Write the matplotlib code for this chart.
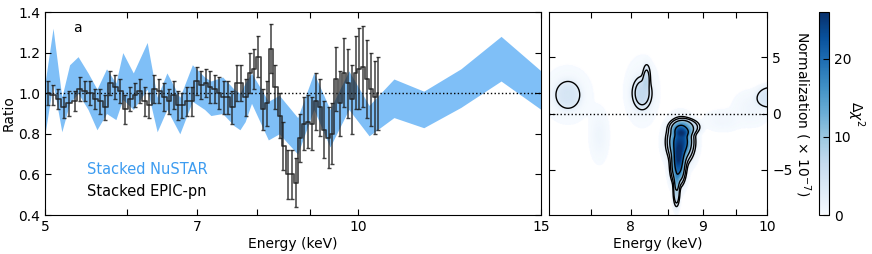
from __future__ import annotations

import matplotlib

matplotlib.use("Agg")
import matplotlib.pyplot as plt
import numpy as np
from matplotlib.colors import LinearSegmentedColormap
from matplotlib.ticker import NullLocator


# Stacked EPIC-pn ratio (bin centres in keV)
epic_energy = [
    5.03, 5.09, 5.15, 5.21, 5.27, 5.34, 5.40, 5.46, 5.52, 5.59,
    5.65, 5.71, 5.78, 5.84, 5.91, 5.97, 6.04, 6.10, 6.17, 6.24,
    6.30, 6.37, 6.44, 6.51, 6.58, 6.65, 6.71, 6.78, 6.85, 6.92,
    7.00, 7.07, 7.14, 7.21, 7.28, 7.35, 7.43, 7.50, 7.57, 7.65,
    7.72, 7.80, 7.87, 7.95, 8.02, 8.10, 8.18, 8.25, 8.33, 8.41,
    8.48, 8.56, 8.64, 8.72, 8.80, 8.88, 8.96, 9.04, 9.12, 9.20,
    9.28, 9.37, 9.45, 9.53, 9.61, 9.70, 9.78, 9.86, 9.95, 10.03,
    10.12, 10.20, 10.29, 10.38, 10.46,
]
epic_ratio = [
    1.00, 0.99, 0.97, 0.93, 0.95, 0.96, 1.02, 1.01, 1.00, 0.97,
    0.96, 0.93, 1.05, 1.03, 1.01, 0.92, 0.97, 0.99, 1.01, 0.96,
    0.94, 1.02, 1.01, 0.98, 0.96, 0.99, 0.94, 0.94, 0.96, 0.96,
    1.06, 1.04, 1.05, 1.03, 1.02, 1.00, 0.98, 0.98, 0.93, 1.05,
    1.05, 0.98, 1.10, 1.12, 1.18, 0.92, 0.95, 1.22, 1.03, 0.89,
    0.74, 0.60, 0.60, 0.56, 0.78, 0.85, 0.86, 0.85, 0.96, 0.93,
    0.82, 0.78, 0.80, 1.07, 0.95, 1.10, 1.05, 0.97, 1.10, 1.12,
    1.13, 1.07, 1.02, 0.98, 1.00,
]
epic_error = [
    0.06, 0.05, 0.05, 0.05, 0.06, 0.05, 0.06, 0.05, 0.06, 0.05,
    0.06, 0.06, 0.06, 0.06, 0.06, 0.07, 0.06, 0.06, 0.06, 0.07,
    0.06, 0.07, 0.06, 0.07, 0.06, 0.07, 0.07, 0.06, 0.07, 0.07,
    0.07, 0.07, 0.07, 0.08, 0.07, 0.08, 0.08, 0.08, 0.08, 0.09,
    0.09, 0.09, 0.10, 0.10, 0.10, 0.10, 0.11, 0.12, 0.11, 0.11,
    0.12, 0.12, 0.12, 0.12, 0.12, 0.13, 0.13, 0.13, 0.14, 0.14,
    0.14, 0.15, 0.15, 0.16, 0.16, 0.17, 0.17, 0.17, 0.18, 0.20,
    0.20, 0.19, 0.18, 0.18, 0.18,
]

# Stacked NuSTAR ratio band (lower / upper edge)
nustar_energy = [
    5.00, 5.09, 5.19, 5.28, 5.38, 5.50, 5.61, 5.73, 5.85, 5.94,
    6.08, 6.27, 6.41, 6.55, 6.74, 6.93, 7.12, 7.22, 7.41, 7.60,
    7.70, 7.79, 7.90, 8.20, 8.40, 8.75, 9.07, 9.40, 9.80, 10.25,
    10.83, 11.57, 12.56, 13.73, 15.00,
]
nustar_low = [
    0.80, 1.05, 0.81, 0.95, 1.00, 0.92, 0.82, 0.90, 0.87, 0.97,
    0.92, 1.02, 0.81, 0.92, 0.80, 0.96, 0.92, 0.89, 0.90, 0.84,
    0.82, 0.86, 0.95, 0.77, 0.80, 0.70, 0.92, 0.735, 0.92, 0.79,
    0.88, 0.83, 0.93, 1.06, 0.92,
]
nustar_high = [
    1.05, 1.32, 0.98, 1.14, 1.18, 1.10, 1.02, 1.12, 1.05, 1.20,
    1.10, 1.25, 0.98, 1.10, 0.98, 1.14, 1.08, 1.06, 1.08, 1.02,
    1.00, 1.05, 1.10, 0.96, 0.99, 0.88, 1.10, 0.92, 1.11, 0.94,
    1.07, 1.01, 1.12, 1.28, 1.11,
]

# Bumps of the line-scan delta chi^2 surface:
# centre (keV, 1e-7), peak, widths and edge sharpness of each one
feature_energy = [8.68, 8.645, 8.74, 8.62, 7.22, 8.15, 8.21, 10.05,
                  7.22, 8.15, 7.60, 9.30, 9.75]
feature_norm = [-2.5, -4.7, -1.2, -6.9, 1.65, 1.8, 3.4, 1.45,
                1.7, 2.0, -1.9, -0.6, 0.5]
feature_peak = [24.0, 20.0, 8.0, 8.0, 3.5, 6.0, 4.5, 4.0,
                0.8, 0.8, 1.1, 0.8, 1.0]
feature_width_e = [0.12, 0.07, 0.17, 0.035, 0.13, 0.10, 0.04, 0.195,
                   0.15, 0.12, 0.06, 0.15, 0.15]
feature_width_n = [1.2, 1.1, 0.6, 1.0, 1.1, 1.1, 0.8, 0.83,
                   1.3, 1.6, 1.2, 0.5, 0.8]
feature_sharpness = [1.3, 1.3, 2.0, 1.5, 2.0, 1.5, 1.5, 2.0,
                     1.0, 1.0, 1.0, 1.0, 1.0]
contour_levels = [2.3, 4.61, 9.21, 18.4]

NUSTAR_FILL = "#7fbff7"
NUSTAR_TEXT = "#3d9cf0"


def style_axis(ax) -> None:
    ax.tick_params(which="both", direction="in", top=True, right=True,
                   length=4, width=0.8, labelsize=10)


def draw_ratio_panel(ax) -> None:
    ax.fill_between(nustar_energy, nustar_low, nustar_high,
                    color=NUSTAR_FILL, lw=0, zorder=1)
    ax.axhline(1.0, color="k", ls=":", lw=1.0, zorder=2)
    ax.errorbar(epic_energy, epic_ratio, yerr=epic_error,
                drawstyle="steps-mid", color="0.12", lw=1.2, alpha=0.85,
                elinewidth=1.1, capsize=1.6, capthick=1.0, zorder=3)

    ax.set_xscale("log")
    ax.set_xlim(5, 15)
    ax.set_ylim(0.4, 1.4)
    ax.set_xticks([5, 6, 7, 8, 9, 10, 15],
                  labels=["5", "", "7", "", "", "10", "15"])
    ax.xaxis.set_minor_locator(NullLocator())
    ax.set_yticks([0.4, 0.6, 0.8, 1.0, 1.2, 1.4])
    style_axis(ax)
    ax.set_xlabel("Energy (keV)", fontsize=10, labelpad=2)
    ax.set_ylabel("Ratio", fontsize=10, labelpad=2)

    ax.text(0.057, 0.92, "a", transform=ax.transAxes, fontsize=10,
            ha="left", va="center")
    ax.text(0.085, 0.222, "Stacked NuSTAR", transform=ax.transAxes,
            fontsize=10.5, color=NUSTAR_TEXT, va="center")
    ax.text(0.085, 0.118, "Stacked EPIC-pn", transform=ax.transAxes,
            fontsize=10.5, color="k", va="center")


def scan_surface(energy: np.ndarray, norm: np.ndarray) -> np.ndarray:
    surface = np.zeros_like(energy)
    for e0, n0, peak, se, sn, p in zip(feature_energy, feature_norm,
                                       feature_peak, feature_width_e,
                                       feature_width_n, feature_sharpness):
        q = ((energy - e0) / se) ** 2 + ((norm - n0) / sn) ** 2
        surface += peak * np.exp(-0.5 * q ** p)
    return surface


def draw_scan_panel(ax, cax) -> None:
    grid_e, grid_n = np.meshgrid(np.linspace(7, 10, 400), np.linspace(-9, 9, 360))
    dchi = scan_surface(grid_e, grid_n)

    blues = plt.cm.Blues(np.linspace(0.0, 1.0, 256))
    blues[0] = (1.0, 1.0, 1.0, 1.0)
    cmap = LinearSegmentedColormap.from_list("blues_white", blues)

    mesh = ax.pcolormesh(grid_e, grid_n, dchi, cmap=cmap, vmin=0, vmax=26,
                         shading="gouraud", rasterized=True)
    ax.contour(grid_e, grid_n, dchi, levels=contour_levels, colors="k",
               linewidths=1.0)
    ax.axhline(0, color="k", ls=":", lw=1.0)

    ax.set_xscale("log")
    ax.set_xlim(7, 10)
    ax.set_ylim(-9, 9)
    ax.set_xticks([7.5, 8, 8.5, 9, 9.5, 10],
                  labels=["", "8", "", "9", "", "10"])
    ax.xaxis.set_minor_locator(NullLocator())
    ax.set_yticks([-5, 0, 5])
    ax.yaxis.tick_right()
    ax.yaxis.set_label_position("right")
    style_axis(ax)
    ax.tick_params(left=True, labelleft=False, labelright=True)
    ax.set_xlabel("Energy (keV)", fontsize=10, labelpad=2)
    ax.set_ylabel("Normalization ( $\\times$ 10$^{-7}$)", fontsize=10,
                  rotation=270, labelpad=14)

    cbar = plt.colorbar(mesh, cax=cax, ticks=[0, 10, 20])
    cbar.outline.set_linewidth(0.8)
    cax.tick_params(direction="in", length=4, labelsize=10)
    cbar.set_label("$\\Delta\\chi^2$", rotation=270, fontsize=10, labelpad=11)


def main() -> None:
    plt.rcParams["font.family"] = "DejaVu Sans"
    plt.rcParams["mathtext.fontset"] = "dejavusans"
    fig = plt.figure(figsize=(8.72, 2.54), dpi=100)
    ax_ratio = fig.add_axes([0.0516, 0.1535, 0.5688, 0.7992])
    ax_scan = fig.add_axes([0.6296, 0.1535, 0.2505, 0.7992])
    cax = fig.add_axes([0.939, 0.1535, 0.0115, 0.7992])

    draw_ratio_panel(ax_ratio)
    draw_scan_panel(ax_scan, cax)

    fig.savefig("out.png", dpi=100)
    plt.close(fig)


if __name__ == "__main__":
    main()
